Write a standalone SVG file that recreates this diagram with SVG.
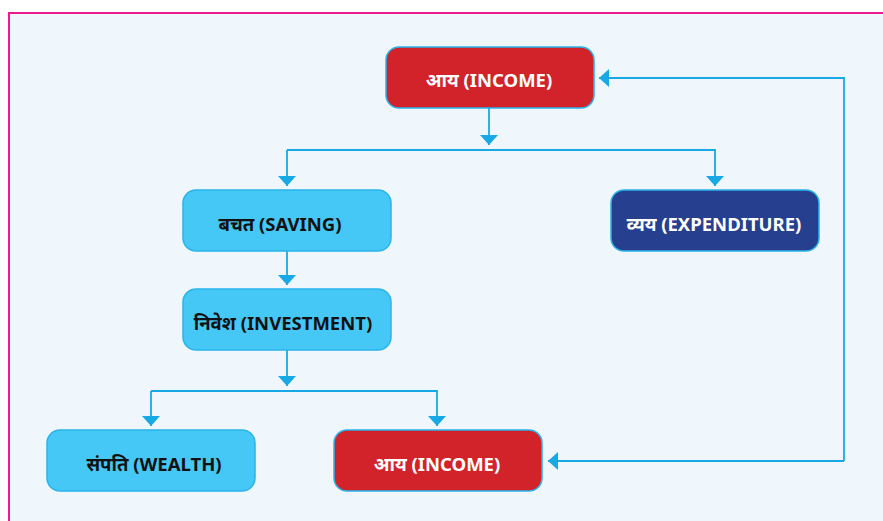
<svg xmlns="http://www.w3.org/2000/svg" width="883" height="521" viewBox="0 0 883 521">
  <style>
    .box { stroke: #29b4ea; stroke-width: 1.5; }
    .red { fill: #d2232a; }
    .sky { fill: #45c8f5; }
    .navy { fill: #263f8e; }
    .lbl { font-family: "Noto Sans", "Open Sans", "Liberation Sans", sans-serif; font-weight: 700; font-size: 18.5px; text-anchor: middle; }
    .light { fill: #ffffff; }
    .dark { fill: #111111; }
    .wire { fill: none; stroke: #17a9e6; stroke-width: 1.8; }
  </style>
  <defs>
    <marker id="tip" viewBox="0 0 10 18" refX="10" refY="9" markerWidth="10" markerHeight="18" markerUnits="userSpaceOnUse" orient="auto">
      <path d="M0,0 L10,9 L0,18 Z" fill="#17a9e6"/>
    </marker>
  </defs>

  <!-- page background and frame -->
  <rect x="0" y="0" width="883" height="521" fill="#ffffff"/>
  <rect x="9" y="13" width="880" height="520" fill="#eff7fd" stroke="#ec1c8e" stroke-width="2"/>

  <!-- connectors -->
  <g id="connectors">
    <path class="wire" d="M489,108 V145" marker-end="url(#tip)"/>
    <path class="wire" d="M287,150 H715 V186" marker-end="url(#tip)"/>
    <path class="wire" d="M287,150 V186" marker-end="url(#tip)"/>
    <path class="wire" d="M287,251 V285" marker-end="url(#tip)"/>
    <path class="wire" d="M287,350 V386" marker-end="url(#tip)"/>
    <path class="wire" d="M151,391 H437 V426" marker-end="url(#tip)"/>
    <path class="wire" d="M151,391 V426" marker-end="url(#tip)"/>
    <path class="wire" d="M844,461 H548" marker-end="url(#tip)"/>
    <path class="wire" d="M844,461 V78 H599" marker-end="url(#tip)"/>
  </g>

  <g id="income-top">
    <rect class="box red" x="386" y="47" width="208" height="61" rx="13"/>
    <text class="lbl light" x="489" y="87">आय (INCOME)</text>
  </g>

  <g id="saving">
    <rect class="box sky" x="183" y="190" width="208" height="61" rx="13"/>
    <text class="lbl dark" x="280" y="231">बचत (SAVING)</text>
  </g>

  <g id="expenditure">
    <rect class="box navy" x="611" y="190" width="208" height="61" rx="13"/>
    <text class="lbl light" x="714" y="231">व्यय (EXPENDITURE)</text>
  </g>

  <g id="investment">
    <rect class="box sky" x="183" y="289" width="208" height="61" rx="13"/>
    <text class="lbl dark" x="283" y="330">निवेश (INVESTMENT)</text>
  </g>

  <g id="wealth">
    <rect class="box sky" x="47" y="430" width="208" height="61" rx="13"/>
    <text class="lbl dark" x="154" y="471">संपति (WEALTH)</text>
  </g>

  <g id="income-bottom">
    <rect class="box red" x="334" y="430" width="208" height="61" rx="13"/>
    <text class="lbl light" x="437" y="471">आय (INCOME)</text>
  </g>
</svg>
